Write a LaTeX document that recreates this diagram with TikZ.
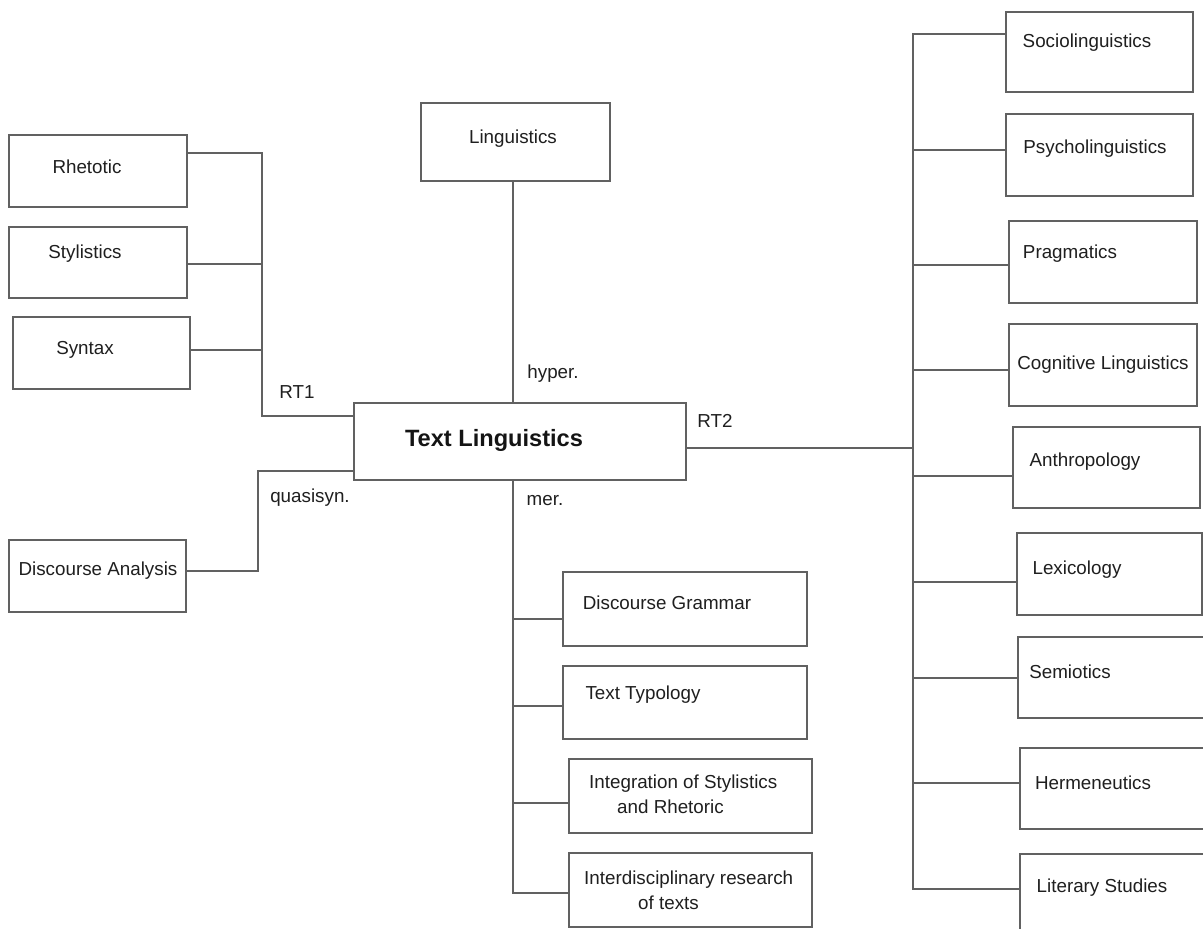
\documentclass[tikz,border=0pt]{standalone}
\usepackage{fontspec}
\setmainfont{Liberation Sans}
\begin{document}
\begin{tikzpicture}[x=1pt,y=-1pt,
  box/.style={draw=black!62, line width=1.2pt, inner sep=0pt, outer sep=0pt, rectangle},
  conn/.style={draw=black!62, line width=1.2pt},
  txt/.style={inner sep=0pt, text=black!88, font=\fontsize{18.8}{25}\selectfont},
  lbl/.style={inner sep=0pt, text=black!88, font=\fontsize{18.8}{25}\selectfont}]
\useasboundingbox (0,0) rectangle (1203,929);
\clip (0,0) rectangle (1203,929);
\fill[white] (0,0) rectangle (1203,929);
% left boxes
\node[box, minimum width=178pt, minimum height=72pt] (rhet) at (98,171) {};
\node[txt] (trhet) at (87,167) {Rhetotic};
\node[box, minimum width=178pt, minimum height=71pt] (styl) at (98,262.5) {};
\node[txt] (tstyl) at (85,254) {Stylistics};
\node[box, minimum width=177pt, minimum height=72pt] (synt) at (101.5,353) {};
\node[txt] (tsynt) at (85,350) {Syntax};
\node[box, minimum width=177pt, minimum height=72pt] (da) at (97.5,576) {};
\node[txt] (tda) at (98,571) {Discourse Analysis};
% top and centre
\node[box, minimum width=189pt, minimum height=78pt] (ling) at (515.5,142) {};
\node[txt] (tling) at (513,139) {Linguistics};
\node[box, minimum width=332pt, minimum height=77pt] (tl) at (520,441.5) {};
\node[inner sep=0pt, text=black!92, font=\fontsize{23.6}{28}\selectfont\bfseries] (ttl) at (494,440) {Text Linguistics};
% bottom boxes
\node[box, minimum width=244pt, minimum height=74pt] (dg) at (685,609) {};
\node[txt] (tdg) at (667,603) {Discourse Grammar};
\node[box, minimum width=244pt, minimum height=73pt] (tt) at (685,702.5) {};
\node[txt] (ttt) at (643,695) {Text Typology};
\node[box, minimum width=243pt, minimum height=74pt] (isr) at (690.5,796) {};
\node[txt, align=left, anchor=west] (tisr) at (589,794.5) {Integration of Stylistics\\\hspace*{28pt}and Rhetoric};
\node[box, minimum width=243pt, minimum height=74pt] (irt) at (690.5,890) {};
\node[txt, align=left, anchor=west] (tirt) at (584,890) {Interdisciplinary research\\\hspace*{54pt}of texts};
% right boxes
\node[box, minimum width=187pt, minimum height=80pt] (soc) at (1099.5,52) {};
\node[txt] (tsoc) at (1087,43) {Sociolinguistics};
\node[box, minimum width=187pt, minimum height=82pt] (psy) at (1099.5,155) {};
\node[txt] (tpsy) at (1095,149) {Psycholinguistics};
\node[box, minimum width=188pt, minimum height=82pt] (prag) at (1103,262) {};
\node[txt] (tprag) at (1070,254) {Pragmatics};
\node[box, minimum width=188pt, minimum height=82pt] (cog) at (1103,365) {};
\node[txt] (tcog) at (1103,365) {Cognitive Linguistics};
\node[box, minimum width=187pt, minimum height=81pt] (anth) at (1106.5,467.5) {};
\node[txt] (tanth) at (1085,462) {Anthropology};
\node[box, minimum width=185pt, minimum height=82pt] (lex) at (1109.5,574) {};
\node[txt] (tlex) at (1077,570) {Lexicology};
\node[box, minimum width=197pt, minimum height=81pt] (sem) at (1116.5,677.5) {};
\node[txt] (tsem) at (1070,672) {Semiotics};
\node[box, minimum width=195pt, minimum height=81pt] (herm) at (1117.5,788.5) {};
\node[txt] (therm) at (1093,783) {Hermeneutics};
\node[box, minimum width=195pt, minimum height=91pt] (lit) at (1117.5,899.5) {};
\node[txt] (tlit) at (1102,888) {Literary Studies};
% labels
\node[lbl] (rt1) at (297,392) {RT1};
\node[lbl] (qs) at (310,498) {quasisyn.};
\node[lbl] (hyp) at (553,374) {hyper.};
\node[lbl] (rt2) at (715,421) {RT2};
\node[lbl] (mer) at (545,501) {mer.};
% left connectors
\coordinate (la) at (262,153);
\coordinate (lb) at (262,264);
\coordinate (lc) at (262,350);
\coordinate (ld) at (262,416);
\draw[conn] (la -| rhet.east) -- (la) -- (ld) -- (ld -| tl.west);
\draw[conn] (lb -| styl.east) -- (lb);
\draw[conn] (lc -| synt.east) -- (lc);
\coordinate (qa) at (258,571);
\coordinate (qb) at (258,471);
\draw[conn] (qa -| da.east) -- (qa) -- (qb) -- (qb -| tl.west);
% top connector
\coordinate (hx) at (513,0);
\draw[conn] (hx |- ling.south) -- (hx |- tl.north);
% bottom trunk
\coordinate (ba) at (513,619);
\coordinate (bb) at (513,706);
\coordinate (bc) at (513,803);
\coordinate (bd) at (513,893);
\draw[conn] (hx |- tl.south) -- (bd) -- (bd -| irt.west);
\draw[conn] (ba) -- (ba -| dg.west);
\draw[conn] (bb) -- (bb -| tt.west);
\draw[conn] (bc) -- (bc -| isr.west);
% right trunk
\coordinate (rm) at (913,448);
\draw[conn] (rm -| tl.east) -- (rm);
\coordinate (r1) at (913,34);
\coordinate (r2) at (913,150);
\coordinate (r3) at (913,265);
\coordinate (r4) at (913,370);
\coordinate (r5) at (913,476);
\coordinate (r6) at (913,582);
\coordinate (r7) at (913,678);
\coordinate (r8) at (913,783);
\coordinate (r9) at (913,889);
\draw[conn] (r1 -| soc.west) -- (r1) -- (r9) -- (r9 -| lit.west);
\draw[conn] (r2) -- (r2 -| psy.west);
\draw[conn] (r3) -- (r3 -| prag.west);
\draw[conn] (r4) -- (r4 -| cog.west);
\draw[conn] (r5) -- (r5 -| anth.west);
\draw[conn] (r6) -- (r6 -| lex.west);
\draw[conn] (r7) -- (r7 -| sem.west);
\draw[conn] (r8) -- (r8 -| herm.west);
\end{tikzpicture}
\end{document}
